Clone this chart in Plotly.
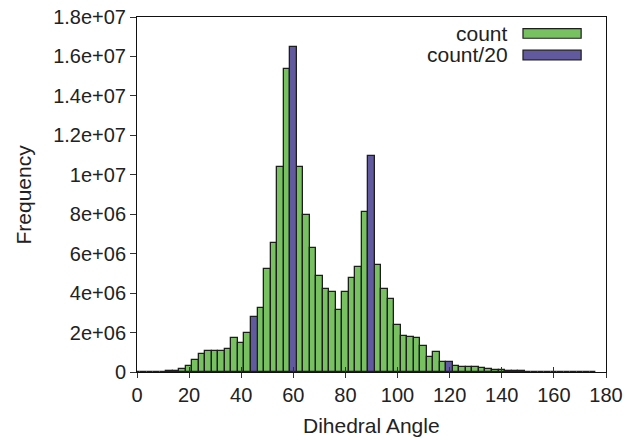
import plotly.graph_objects as go

# Bin centres (degrees), bin width 2.5
angles = [i * 2.5 for i in range(71)]  # 0 .. 175

# Frequencies (millions); None where the count/20 series is drawn
count_m = [
    0.01, 0.01, 0.015, 0.02, 0.025, 0.04, 0.06, 0.15,      # 0 .. 17.5
    0.30, 0.63, 0.91, 1.05, 1.08, 1.08, 1.18, 1.70,        # 20 .. 37.5
    1.45, 1.97, None, 3.27, 5.20, 6.53, 10.39, 15.37,      # 40 .. 57.5
    None, 10.40, 7.96, 6.28, 4.86, 4.23, 4.06, 3.15,       # 60 .. 77.5
    4.07, 4.76, 5.34, 8.10, None, 5.45, 4.19, 3.72,        # 80 .. 97.5
    2.37, 1.83, 1.75, 1.70, 1.33, 0.74, 0.99, 0.49,        # 100 .. 117.5
    None, 0.32, 0.27, 0.24, 0.24, 0.22, 0.16, 0.10,        # 120 .. 137.5
    0.08, 0.05, 0.04, 0.03, 0.02, 0.015, 0.012, 0.01,      # 140 .. 157.5
    0.008, 0.007, 0.006, 0.005, 0.005, 0.004, 0.003,       # 160 .. 175
]
count20_angles = [45, 60, 90, 120]
count20_m = [2.81, 16.5, 10.93, 0.52]

x_ticks = [0, 20, 40, 60, 80, 100, 120, 140, 160, 180]
y_ticks = [0, 2e6, 4e6, 6e6, 8e6, 1e7, 1.2e7, 1.4e7, 1.6e7, 1.8e7]
y_ticklabels = ["0", "2e+06", "4e+06", "6e+06", "8e+06", "1e+07",
                "1.2e+07", "1.4e+07", "1.6e+07", "1.8e+07"]

green = "#77c160"
purple = "#625a9e"
edge = "#1e1e1e"
txt = "#222222"
FONT = "Liberation Sans, Arial, sans-serif"
TICK_SIZE = 20
TITLE_SIZE = 21

gx = [a for a, v in zip(angles, count_m) if v is not None]
gy = [v * 1e6 for v in count_m if v is not None]

fig = go.Figure()
fig.add_trace(go.Bar(x=gx, y=gy, width=2.5, name="count",
                     marker=dict(color=green, line=dict(color=edge, width=1.3)),
                     showlegend=False))
fig.add_trace(go.Bar(x=count20_angles, y=[v * 1e6 for v in count20_m], width=2.5,
                     name="count/20",
                     marker=dict(color=purple, line=dict(color=edge, width=1.3)),
                     showlegend=False))
# invisible trace to carry the overlay axis with inward ticks
fig.add_trace(go.Scatter(x=[0, 180], y=[0, 0], xaxis="x2", mode="lines",
                         line=dict(width=0), hoverinfo="skip", showlegend=False))

fig.update_layout(
    width=644, height=440,
    margin=dict(l=137, r=38, t=17, b=68),
    plot_bgcolor="white", paper_bgcolor="white",
    barmode="overlay", bargap=0,
    font=dict(family=FONT, size=TICK_SIZE, color=txt),
    xaxis=dict(range=[0, 180], tickmode="array", tickvals=x_ticks,
               ticks="outside", ticklen=5, tickcolor="#333", tickwidth=1,
               showline=True, linecolor="#111", linewidth=1, mirror=True,
               showgrid=False, zeroline=False, automargin=False,
               ticklabeloverflow="allow",
               tickfont=dict(size=TICK_SIZE, color=txt)),
    xaxis2=dict(range=[0, 180], overlaying="x", anchor="y", side="bottom",
                tickmode="array", tickvals=x_ticks, ticks="inside", ticklen=5,
                tickcolor="#333", tickwidth=1, showticklabels=False,
                showgrid=False, zeroline=False, showline=False, automargin=False),
    yaxis=dict(range=[0, 1.8e7], tickmode="array", tickvals=y_ticks,
               ticktext=y_ticklabels, ticks="outside", ticklen=6,
               tickcolor="#333", tickwidth=1,
               showline=True, linecolor="#111", linewidth=1, mirror=True,
               showgrid=False, zeroline=False, automargin=False,
               ticklabeloverflow="allow",
               tickfont=dict(size=TICK_SIZE, color=txt)),
)

# Axis titles
fig.add_annotation(x=0.5, y=0, xref="paper", yref="paper", text="Dihedral Angle",
                   showarrow=False, xanchor="center", yanchor="middle", yshift=-53,
                   font=dict(size=TITLE_SIZE, color=txt, family=FONT))
fig.add_annotation(x=0, y=0.5, xref="paper", yref="paper", text="Frequency",
                   showarrow=False, xanchor="center", yanchor="middle", xshift=-114,
                   textangle=-90, font=dict(size=TITLE_SIZE, color=txt, family=FONT))

# Legend drawn in the top-right corner: text right-aligned, swatch on the right
legend_names = ["count", "count/20"]
legend_colors = [green, purple]
legend_y = [0.9536, 0.893]
for name, col, yy in zip(legend_names, legend_colors, legend_y):
    fig.add_annotation(x=0.795, y=yy, xref="paper", yref="paper", text=name,
                       showarrow=False, xanchor="right", yanchor="middle",
                       font=dict(size=TITLE_SIZE, color=txt, family=FONT))
    fig.add_shape(type="rect", xref="paper", yref="paper",
                  x0=0.823, x1=0.947, y0=yy - 0.0135, y1=yy + 0.0135,
                  fillcolor=col, line=dict(color=edge, width=1.2))

# remove the browser's default 8px body margin so the figure fills the window
fig.write_html("out.html", config={"displayModeBar": False},
               post_script="document.body.style.margin='0';")
